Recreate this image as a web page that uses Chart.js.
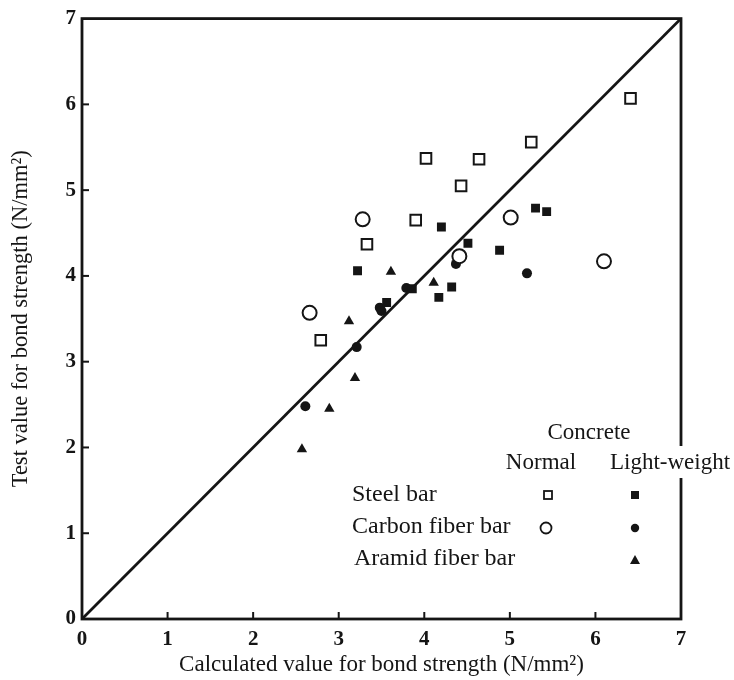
<!DOCTYPE html>
<html>
<head>
<meta charset="utf-8">
<script src="https://cdn.jsdelivr.net/npm/chart.js@4.4.0/dist/chart.umd.min.js"></script>
<style>
  html, body { margin: 0; padding: 0; background: #fff; }
  #wrap { width: 734px; height: 680px; }
</style>
</head>
<body>
<div id="wrap"><canvas id="graphique"></canvas></div>
<script>
const steelNormalX = [6.41, 5.25, 4.64, 4.02, 4.43, 3.90, 3.33, 2.79];
const steelNormalY = [6.07, 5.56, 5.36, 5.37, 5.05, 4.65, 4.37, 3.25];

const steelLightX = [5.30, 5.43, 4.20, 4.51, 4.88, 4.32, 4.17, 3.22, 3.86, 3.56];
const steelLightY = [4.79, 4.75, 4.57, 4.38, 4.30, 3.87, 3.75, 4.06, 3.85, 3.69];

const carbonNormalX = [3.28, 5.01, 4.41, 6.10, 2.66];
const carbonNormalY = [4.66, 4.68, 4.23, 4.17, 3.57];

const carbonLightX = [4.37, 5.20, 3.79, 3.48, 3.50, 3.21, 2.61];
const carbonLightY = [4.14, 4.03, 3.86, 3.63, 3.59, 3.17, 2.48];

const aramidLightX = [3.61, 4.11, 3.12, 3.19, 2.89, 2.57];
const aramidLightY = [4.05, 3.92, 3.47, 2.81, 2.45, 1.98];

const diagonal = [0, 7];
const ticksAxes = [0, 1, 2, 3, 4, 5, 6, 7];

const INK = '#151515';
const POLICE = '"Liberation Serif", "DejaVu Serif", serif';

function points(xs, ys) {
    return xs.map((x, i) => ({ x: x, y: ys[i] }));
}

// cadre, graduations vers l'intérieur et légende dessinée à la main
const cadre = {
    id: 'cadre',
    afterDraw(chart) {
        const ctx = chart.ctx;
        const a = chart.chartArea;
        const sx = chart.scales.x;
        const sy = chart.scales.y;
        ctx.save();
        ctx.strokeStyle = INK;
        ctx.lineWidth = 2.8;
        ctx.strokeRect(a.left, a.top, a.right - a.left, a.bottom - a.top);

        ctx.lineWidth = 2;
        ticksAxes.forEach(v => {
            if (v === 0 || v === 7) return;
            const px = sx.getPixelForValue(v);
            ctx.beginPath(); ctx.moveTo(px, a.bottom); ctx.lineTo(px, a.bottom - 7); ctx.stroke();
            const py = sy.getPixelForValue(v);
            ctx.beginPath(); ctx.moveTo(a.left, py); ctx.lineTo(a.left + 7, py); ctx.stroke();
        });

        // légende
        ctx.font = '23px ' + POLICE;
        ctx.fillStyle = INK;
        ctx.textBaseline = 'middle';
        ctx.textAlign = 'center';
        ctx.fillText('Concrete', 589, 433);
        ctx.fillText('Normal', 541, 463);
        const w = ctx.measureText('Light-weight').width;
        ctx.fillStyle = '#fff';
        ctx.fillRect(670 - w / 2 - 3, 446, w + 6, 32);
        ctx.fillStyle = INK;
        ctx.fillText('Light-weight', 670, 463);

        ctx.font = '24px ' + POLICE;
        ctx.textAlign = 'left';
        ctx.fillText('Steel bar', 352, 495);
        ctx.fillText('Carbon fiber bar', 352, 527);
        ctx.fillText('Aramid fiber bar', 354, 559);

        ctx.lineWidth = 1.8;
        ctx.strokeRect(544, 491, 8, 8);
        ctx.fillRect(631, 491, 8, 8);
        ctx.beginPath(); ctx.arc(546, 528, 5.5, 0, Math.PI * 2); ctx.stroke();
        ctx.beginPath(); ctx.arc(635, 528, 4.2, 0, Math.PI * 2); ctx.fill();
        ctx.beginPath(); ctx.moveTo(635, 555); ctx.lineTo(640, 564); ctx.lineTo(630, 564); ctx.closePath(); ctx.fill();
        ctx.restore();
    }
};

new Chart(document.getElementById('graphique'), {
    type: 'scatter',
    data: {
        datasets: [
            {
                label: 'diagonale',
                type: 'line',
                data: points(diagonal, diagonal),
                borderColor: INK,
                borderWidth: 2.8,
                pointRadius: 0,
                fill: false
            },
            {
                label: 'Steel bar - Normal',
                data: points(steelNormalX, steelNormalY),
                pointStyle: 'rect',
                pointRadius: 7.5,
                pointBorderWidth: 2,
                pointBackgroundColor: '#fff',
                pointBorderColor: INK
            },
            {
                label: 'Steel bar - Light-weight',
                data: points(steelLightX, steelLightY),
                pointStyle: 'rect',
                pointRadius: 6.3,
                pointBorderWidth: 0,
                pointBackgroundColor: INK,
                pointBorderColor: INK
            },
            {
                label: 'Carbon fiber bar - Normal',
                data: points(carbonNormalX, carbonNormalY),
                pointStyle: 'circle',
                pointRadius: 7,
                pointBorderWidth: 2,
                pointBackgroundColor: '#fff',
                pointBorderColor: INK
            },
            {
                label: 'Carbon fiber bar - Light-weight',
                data: points(carbonLightX, carbonLightY),
                pointStyle: 'circle',
                pointRadius: 5,
                pointBorderWidth: 0,
                pointBackgroundColor: INK,
                pointBorderColor: INK
            },
            {
                label: 'Aramid fiber bar - Light-weight',
                data: points(aramidLightX, aramidLightY),
                pointStyle: 'triangle',
                pointRadius: 6,
                pointBorderWidth: 0,
                pointBackgroundColor: INK,
                pointBorderColor: INK
            }
        ]
    },
    options: {
        responsive: true,
        maintainAspectRatio: false,
        animation: false,
        layout: { padding: { top: 17, right: 53, bottom: 0, left: 0 } },
        plugins: {
            legend: { display: false },
            tooltip: { enabled: false }
        },
        scales: {
            x: {
                type: 'linear',
                min: 0,
                max: 7,
                border: { display: false },
                grid: { display: false, drawTicks: false },
                ticks: {
                    stepSize: 1,
                    padding: 8,
                    color: INK,
                    font: { family: POLICE, size: 21, weight: 'bold' }
                },
                title: {
                    display: true,
                    text: 'Calculated value for bond strength (N/mm²)',
                    color: INK,
                    font: { family: POLICE, size: 23 },
                    padding: { top: 0, bottom: 1 }
                },
                afterFit: s => { s.height = 61; }
            },
            y: {
                type: 'linear',
                min: 0,
                max: 7,
                border: { display: false },
                grid: { display: false, drawTicks: false },
                ticks: {
                    stepSize: 1,
                    padding: 6,
                    color: INK,
                    font: { family: POLICE, size: 21, weight: 'bold' }
                },
                title: {
                    display: true,
                    text: 'Test value for bond strength (N/mm²)',
                    color: INK,
                    font: { family: POLICE, size: 22.5 },
                    padding: { top: 8, bottom: 0 }
                },
                afterFit: s => { s.width = 82; }
            }
        }
    },
    plugins: [cadre]
});
</script>
</body>
</html>
